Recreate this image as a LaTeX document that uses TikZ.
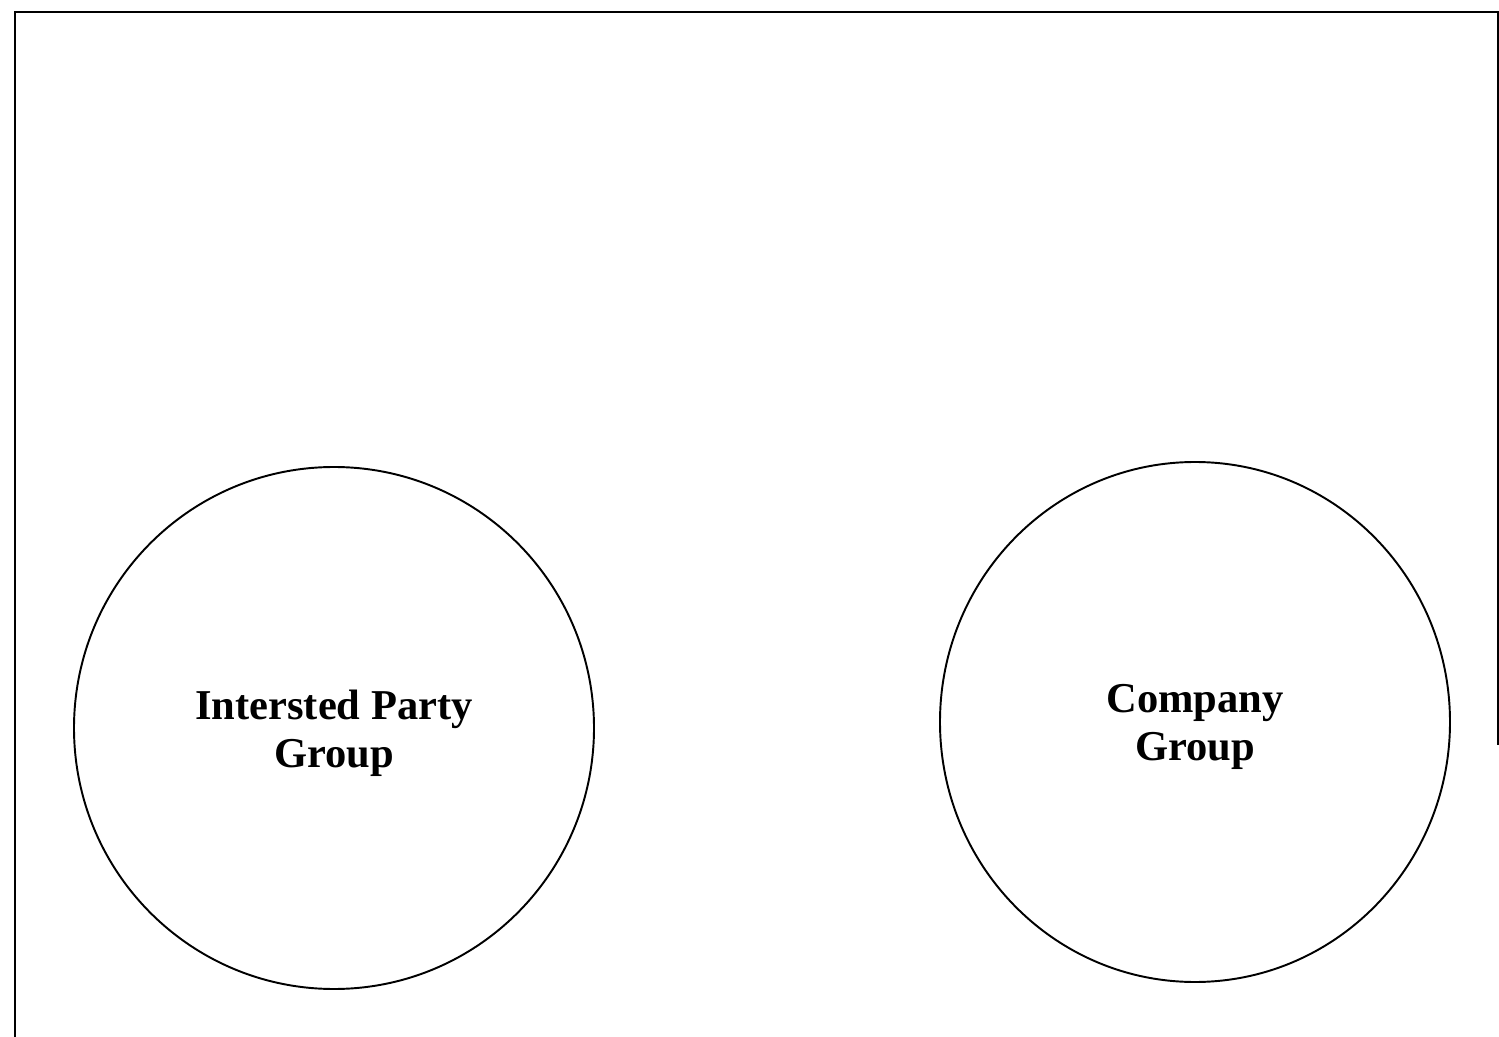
\documentclass[tikz,border=0pt]{standalone}
\usepackage{fontspec}
\setmainfont{Liberation Serif}
\usetikzlibrary{shapes.geometric}
\begin{document}
\begin{tikzpicture}[x=0.02cm,y=-0.02cm,
  group/.style={draw,line width=1.1pt,ellipse,inner sep=0pt},
  grouplabel/.style={font=\bfseries\fontsize{24.2}{27.5}\selectfont,align=center}]
\useasboundingbox (0,0) rectangle (1499,1037);
% frame
\coordinate (tl) at (15,12);
\coordinate (tr) at (1498,12);
\coordinate (bl) at (15,1037);
\coordinate (rb) at (1498,745);
\draw[line width=1.4pt] (bl) -- (tl) -- (tr) -- (rb);
% groups
\node[group,minimum width=520*0.02cm,minimum height=522*0.02cm] (ip) at (334,728) {};
\node[group,minimum width=510*0.02cm,minimum height=520*0.02cm] (co) at (1195,722) {};
\node[grouplabel] (iplabel) at (334,733) {Intersted Party\\Group};
\node[grouplabel] (colabel) at (1195,727) {Company\\Group};
\end{tikzpicture}
\end{document}
